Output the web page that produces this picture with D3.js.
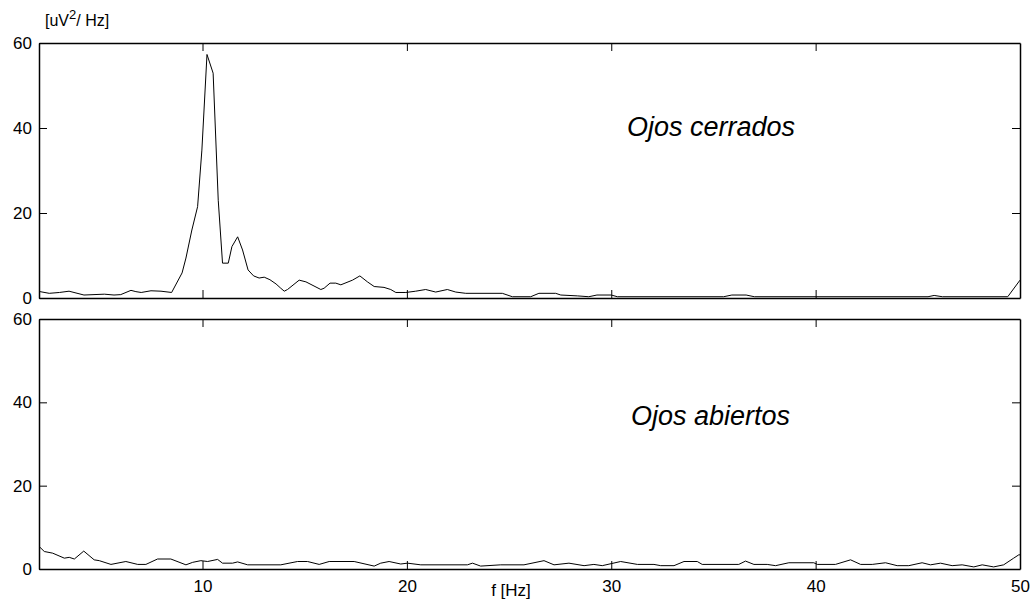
<!DOCTYPE html>
<html>
<head>
<meta charset="utf-8">
<script src="https://cdn.jsdelivr.net/npm/d3@7"></script>
<style>
  body { margin: 0; background: #fff; }
  svg { font-family: 'Liberation Sans', Arial, sans-serif; }
</style>
</head>
<body>
<div id="root"></div>
<script>
// frequency (Hz) and power (uV^2/Hz)
const closedFreq = [2.05, 2.5, 3.0, 3.47, 4.2, 5.2, 5.67, 6.0, 6.5, 6.74, 7.0, 7.48, 7.97, 8.49,
  9.0, 9.19, 9.48, 9.76, 9.97, 10.22, 10.52, 10.77, 10.98, 11.26, 11.44, 11.72, 11.96, 12.23,
  12.5, 12.77, 13.02, 13.3, 13.6, 13.83, 14.0, 14.16, 14.73, 15.06, 15.79, 15.95, 16.24, 16.52,
  16.77, 17.34, 17.7, 18.07, 18.4, 18.88, 19.21, 19.46, 19.95, 20.43, 20.92, 21.41, 21.98, 22.39,
  22.88, 24.67, 25.16, 26.06, 26.46, 27.28, 27.53, 28.34, 28.9, 29.3, 30.0, 30.3, 35.5, 35.9,
  36.6, 37.0, 45.5, 45.8, 46.2, 49.4, 50.0]
const closedPower = [1.5, 1.1, 1.3, 1.6, 0.7, 0.9, 0.7, 0.8, 1.8, 1.5, 1.3, 1.7, 1.6, 1.3,
  5.9, 9.4, 16, 21.5, 34.8, 57.3, 52.9, 23, 8.2, 8.2, 12.1, 14.4, 11.3, 6.6,
  5.2, 4.7, 4.9, 4.3, 3.3, 2.3, 1.6, 2.0, 4.2, 3.8, 2.0, 2.3, 3.5, 3.5,
  3.1, 4.2, 5.2, 3.8, 2.7, 2.5, 2.0, 1.3, 1.3, 1.6, 2.0, 1.4, 2.0, 1.4,
  1.1, 1.1, 0.3, 0.3, 1.1, 1.1, 0.7, 0.5, 0.3, 0.7, 0.7, 0.3, 0.3, 0.7,
  0.7, 0.3, 0.3, 0.6, 0.3, 0.3, 4.2]

const openFreq = [2.05, 2.26, 2.67, 3.24, 3.48, 3.73, 4.19, 4.7, 4.95, 5.52, 6.25, 6.83, 7.23,
  7.8, 8.45, 9.19, 9.52, 9.92, 10.25, 10.74, 10.98, 11.47, 11.72, 12.21, 13.83, 14.65, 15.14,
  15.71, 16.2, 17.42, 18.4, 18.72, 19.13, 19.7, 20.03, 20.68, 22.96, 23.21, 23.61, 24.59, 25.73,
  26.71, 27.2, 27.93, 28.67, 29.15, 29.56, 30.46, 31.28, 32.09, 32.42, 33.07, 33.56, 34.21, 34.45,
  36.24, 36.57, 36.98, 37.63, 38.04, 38.69, 39.91, 40.08, 40.97, 41.71, 42.2, 42.77, 43.42, 43.99,
  44.56, 45.21, 45.62, 46.11, 46.68, 47.17, 47.74, 48.15, 48.71, 49.2, 49.69, 49.94, 50.0]
const openPower = [5.2, 4.2, 3.8, 2.6, 2.8, 2.4, 4.3, 2.2, 2.0, 1.1, 1.8, 1.1, 1.1,
  2.4, 2.4, 1.0, 1.6, 2.0, 1.8, 2.3, 1.4, 1.4, 1.7, 1.0, 1.0, 1.8, 1.8,
  1.1, 1.8, 1.8, 0.7, 1.4, 1.8, 1.2, 1.4, 1.0, 1.0, 1.4, 0.7, 1.0, 1.0,
  2.0, 1.0, 1.4, 0.8, 1.1, 0.8, 1.8, 1.1, 1.1, 0.8, 0.8, 1.8, 1.8, 1.1,
  1.1, 1.9, 1.1, 1.1, 0.8, 1.5, 1.5, 1.1, 1.1, 2.2, 1.1, 1.1, 1.5, 0.8,
  0.8, 1.5, 1.0, 1.4, 0.8, 1.0, 0.5, 1.0, 0.5, 1.0, 2.6, 3.4, 3.4]

const xTicks = [10, 20, 30, 40, 50]
const yTicks = [0, 20, 40, 60]

const panels = [
  { label: 'Ojos cerrados', freq: closedFreq, power: closedPower, top: 43, bottom: 298, textX: 627, textY: 136 },
  { label: 'Ojos abiertos', freq: openFreq, power: openPower, top: 319, bottom: 569, textX: 631, textY: 425 }
]

const dimensions = { width: 1033, height: 603, left: 39, right: 1020 }
const tickLen = 8

const svg = d3.select('#root').append('svg')
  .attr('width', dimensions.width)
  .attr('height', dimensions.height)

const xScale = d3.scaleLinear()
  .domain([2, 50])
  .range([dimensions.left, dimensions.right])

panels.forEach((p, i) => {
  const yScale = d3.scaleLinear().domain([0, 60]).range([p.bottom, p.top])
  const g = svg.append('g')

  // the curve
  const line = d3.line()
    .x(d => xScale(d[0]))
    .y(d => yScale(d[1]))
  g.append('path')
    .datum(d3.zip(p.freq, p.power))
    .attr('d', line)
    .attr('fill', 'none')
    .attr('stroke', '#000')
    .attr('stroke-width', 1)

  // matlab style box with inward ticks on all sides
  const bottomAxis = d3.axisBottom(xScale).tickValues(xTicks).tickSizeInner(-tickLen).tickSizeOuter(0)
    .tickFormat(i === 1 ? d3.format('d') : '')
  const topAxis = d3.axisTop(xScale).tickValues(xTicks.slice(0, -1)).tickSizeInner(-tickLen).tickSizeOuter(0).tickFormat('')
  const leftAxis = d3.axisLeft(yScale).tickValues(yTicks).tickSizeInner(-tickLen).tickSizeOuter(0).tickFormat(d3.format('d'))
  const rightAxis = d3.axisRight(yScale).tickValues(yTicks.slice(1, -1)).tickSizeInner(-tickLen).tickSizeOuter(0).tickFormat('')

  const gx = g.append('g').attr('transform', `translate(0, ${p.bottom})`).call(bottomAxis)
  g.append('g').attr('transform', `translate(0, ${p.top})`).call(topAxis)
  const gy = g.append('g').attr('transform', `translate(${dimensions.left}, 0)`).call(leftAxis)
  g.append('g').attr('transform', `translate(${dimensions.right}, 0)`).call(rightAxis)

  g.selectAll('.domain').attr('stroke', '#000').attr('stroke-width', 1.5)
  g.selectAll('.tick line').attr('stroke', '#000').attr('stroke-width', 1)
  g.selectAll('.tick text').attr('fill', '#000').attr('font-size', 17).attr('font-family', 'Liberation Sans, Arial, sans-serif')
  gx.selectAll('.tick text').attr('dy', '1.1em').attr('y', 4)
  gy.selectAll('.tick text').attr('x', -7)

  g.append('text')
    .attr('x', p.textX)
    .attr('y', p.textY)
    .attr('font-size', 27)
    .attr('font-style', 'italic')
    .text(p.label)
})

svg.append('text')
  .attr('x', 511)
  .attr('y', 596)
  .attr('text-anchor', 'middle')
  .attr('font-size', 17)
  .text('f [Hz]')

const unit = svg.append('text')
  .attr('x', 45)
  .attr('y', 26)
  .attr('font-size', 16)
unit.append('tspan').text('[uV')
unit.append('tspan').attr('dy', -7).attr('font-size', 13).text('2')
unit.append('tspan').attr('dy', 7).text('/ Hz]')
</script>
</body>
</html>
